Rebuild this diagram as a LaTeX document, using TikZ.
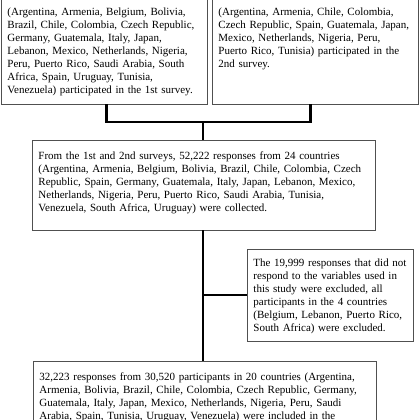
\documentclass[tikz,border=0pt]{standalone}
\usepackage{fontspec}
\setmainfont{Liberation Serif}
\definecolor{boxgray}{HTML}{505050}
\tikzset{
  flowbox/.style={draw=boxgray, line width=0.9pt, inner xsep=6pt, inner ysep=0pt,
    anchor=base west, align=left, font=\fontsize{11}{13}\selectfont},
  link/.style={line width=2.2pt}
}
\begin{document}
\begin{tikzpicture}[x=1pt,y=-1pt]
\useasboundingbox (0,0) rectangle (420,420);
\clip (0,0) rectangle (420,420);
% the two surveys
\node[flowbox, text width=194pt, text height=30pt, text depth=88.8pt] (first) at (1,15.2)
  {(Argentina, Armenia, Belgium, Bolivia,\\
   Brazil, Chile, Colombia, Czech Republic,\\
   Germany, Guatemala, Italy, Japan,\\
   Lebanon, Mexico, Netherlands, Nigeria,\\
   Peru, Puerto Rico, Saudi Arabia, South\\
   Africa, Spain, Uruguay, Tunisia,\\
   Venezuela) participated in the 1st survey.};
\node[flowbox, text width=194pt, text height=30pt, text depth=88.8pt] (second) at (212,15.2)
  {(Argentina, Armenia, Chile, Colombia,\\
   Czech Republic, Spain, Guatemala, Japan,\\
   Mexico, Netherlands, Nigeria, Peru,\\
   Puerto Rico, Tunisia) participated in the\\
   2nd survey.};
% collected responses
\node[flowbox, text width=331pt, text height=19.5pt, text depth=70.5pt] (collected) at (32,159.5)
  {From the 1st and 2nd surveys, 52,222 responses from 24 countries\\
   (Argentina, Armenia, Belgium, Bolivia, Brazil, Chile, Colombia, Czech\\
   Republic, Spain, Germany, Guatemala, Italy, Japan, Lebanon, Mexico,\\
   Netherlands, Nigeria, Peru, Puerto Rico, Saudi Arabia, Tunisia,\\
   Venezuela, South Africa, Uruguay) were collected.};
\node[flowbox, text width=154pt, text height=17.2pt, text depth=74.8pt] (excluded) at (247,266.2)
  {The 19,999 responses that did not\\
   respond to the variables used in\\
   this study were excluded, all\\
   participants in the 4 countries\\
   (Belgium, Lebanon, Puerto Rico,\\
   South Africa) were excluded.};
\node[flowbox, text width=331pt, text height=19.5pt, text depth=70pt] (included) at (33,380.5)
  {32,223 responses from 30,520 participants in 20 countries (Argentina,\\
   Armenia, Bolivia, Brazil, Chile, Colombia, Czech Republic, Germany,\\
   Guatemala, Italy, Japan, Mexico, Netherlands, Nigeria, Peru, Saudi\\
   Arabia, Spain, Tunisia, Uruguay, Venezuela) were included in the};
% connectors
\coordinate (join) at (203,122);
\draw[link] ([xshift=2pt]first.south) |- (join);
\draw[link] ([xshift=-5pt]second.south) |- (join);
\draw[link] (join) -- (join |- collected.north);
\draw[link] (join |- collected.south) -- (join |- included.north);
\draw[link] (join |- excluded.west) -- (excluded.west);
\end{tikzpicture}
\end{document}
